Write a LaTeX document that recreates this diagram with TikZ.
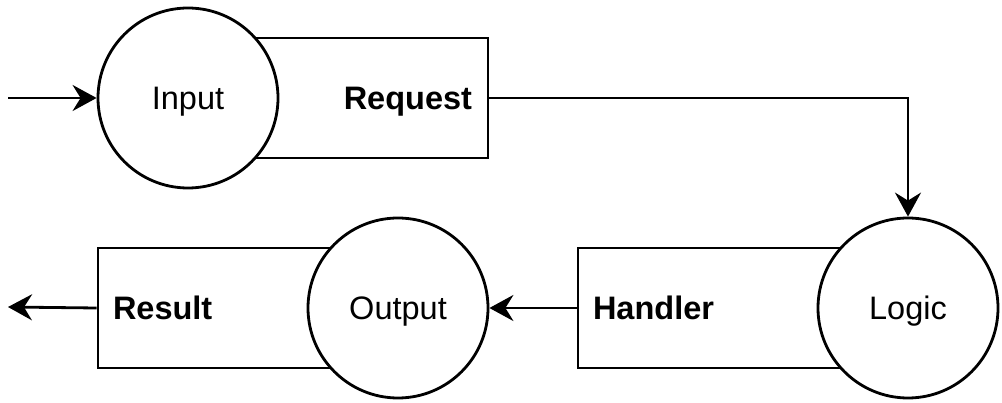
\documentclass[tikz,border=0pt]{standalone}
\usepackage{fontspec}
\setmainfont{Liberation Sans}
\usetikzlibrary{arrows.meta}
\tikzset{
  every picture/.style={x=1pt,y=-1pt},
  shp/.style={draw=black, line width=2.8pt, fill=white},
  txt/.style={font=\fontsize{32.5}{38}\selectfont, text height=23.3pt, text depth=0pt},
  ring/.style={shp, txt, circle, minimum size=180pt, inner sep=0pt},
  box/.style={shp, txt, rectangle, minimum height=120pt, inner ysep=0pt, font=\fontsize{32.5}{38}\selectfont\bfseries},
  conn/.style={draw=black, line width=2.8pt, -{Stealth[length=24pt,width=26pt,inset=8pt]}}
}
\begin{document}
\begin{tikzpicture}
\useasboundingbox (0,0) rectangle (1002,403);
% top row
\node[box, text width=268pt, inner xsep=16pt, align=right] (req) at (338,98) {Request};
\node[ring] (input) at (188,98) {Input};
% bottom right
\node[box, text width=300pt, inner xsep=15pt, align=left] (hand) at (743,308) {Handler};
\node[ring] (logic) at (908,308) {Logic};
% bottom left
\node[box, text width=270pt, inner xsep=15pt, align=left] (res) at (248,308) {Result};
\node[ring] (output) at (398,308) {Output};
% free ends
\coordinate (start) at (8,98);
\coordinate (finish) at (8,307);
% connectors
\draw[conn] (start) -- (input.west);
\draw[conn] (req.east) -| (logic.north);
\draw[conn] (hand.west) -- (output.east);
\draw[conn] (res.west) -- (finish);
\end{tikzpicture}
\end{document}
